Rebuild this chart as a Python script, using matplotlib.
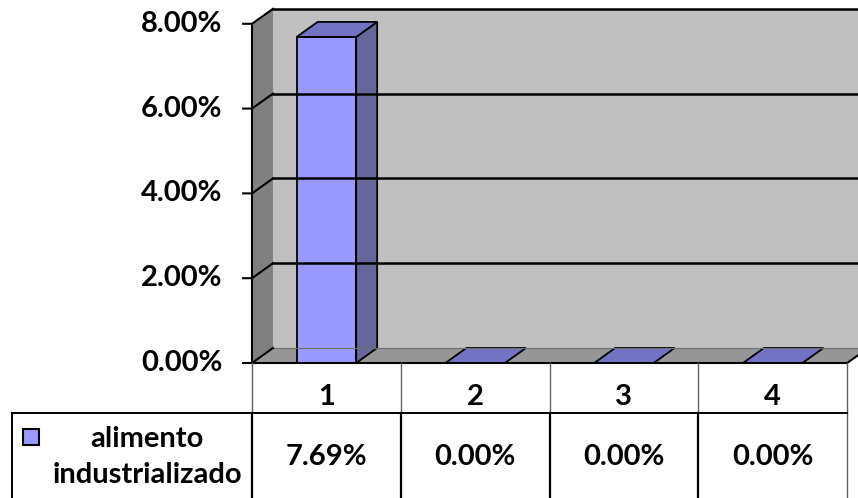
import matplotlib.pyplot as plt
from matplotlib.patches import Polygon, Rectangle

categories = ['1', '2', '3', '4']
values = [7.69, 0.00, 0.00, 0.00]
value_labels = ['7.69%', '0.00%', '0.00%', '0.00%']
y_ticks = [0, 2, 4, 6, 8]
y_tick_labels = ['0.00%', '2.00%', '4.00%', '6.00%', '8.00%']
series_name = 'alimento\nindustrializado'

plt.rcParams['font.family'] = ['Lato', 'DejaVu Sans']
FS = 21

fig = plt.figure(figsize=(8.58, 4.98), dpi=100)
ax = fig.add_axes([0, 0, 1, 1])
ax.set_xlim(-1.694, 4.073)
ax.set_ylim(-3.184, 8.561)
ax.axis('off')

n = len(categories)
top = y_ticks[-1]
dx, dy = 0.141, 0.354      # depth offset of the 3d box
bw = 0.4                   # bar width
edge = dict(edgecolor='black', linewidth=1.3, joinstyle='miter')

# walls and floor
ax.add_patch(Polygon([(dx, dy), (n + dx, dy), (n + dx, top + dy), (dx, top + dy)],
                     facecolor='#c0c0c0', edgecolor='none'))
ax.add_patch(Polygon([(0, 0), (dx, dy), (dx, top + dy), (0, top)],
                     facecolor='#808080', edgecolor='none'))
ax.add_patch(Polygon([(0, 0), (n, 0), (n + dx, dy), (dx, dy)],
                     facecolor='#969696', edgecolor='none'))
ax.plot([dx, n + dx], [dy, dy], color='#707070', lw=0.8)

# gridlines on the walls + ticks
for t in y_ticks:
    ax.plot([-0.06, 0, dx], [t, t, t + dy], color='black', lw=1.5, solid_joinstyle='miter')
    if t > 0:
        ax.plot([dx, n + dx + 0.2], [t + dy, t + dy], color='black', lw=1.8)
ax.plot([0, 0], [0, top], color='black', lw=1.5)
ax.plot([0, n], [0, 0], color='black', lw=1.5)
ax.plot([n, n + dx], [0, dy], color='black', lw=1.5)

for t, lab in zip(y_ticks, y_tick_labels):
    ax.text(-0.2, t, lab, ha='right', va='center', fontsize=FS, fontweight='bold')

# bars
for i, v in enumerate(values):
    x0, x1 = i + 0.5 - bw / 2, i + 0.5 + bw / 2
    if v > 0:
        ax.add_patch(Rectangle((x0, 0), bw, v, facecolor='#9999ff', **edge))
        ax.add_patch(Polygon([(x1, 0), (x1 + dx, dy), (x1 + dx, v + dy), (x1, v)],
                             facecolor='#666699', **edge))
    ax.add_patch(Polygon([(x0, v), (x1, v), (x1 + dx, v + dy), (x0 + dx, v + dy)],
                         facecolor='#7373c4', **edge))

# data table
row1 = -1.179
bottom = -3.184
leg_left = -1.613
for i in range(n + 1):
    ax.plot([i, i], [0, row1], color='#606060', lw=1.0)
    ax.plot([i, i], [row1, bottom], color='black' if i < n else '#606060',
            lw=1.6 if i < n else 1.0)
ax.plot([leg_left, n], [row1, row1], color='black', lw=1.4)
ax.plot([leg_left, leg_left], [row1, bottom], color='black', lw=1.4)

for i, (c, lab) in enumerate(zip(categories, value_labels)):
    ax.text(i + 0.5, -0.8, c, ha='center', va='center', fontsize=FS, fontweight='bold')
    ax.text(i + 0.5, -2.22, lab, ha='center', va='center', fontsize=FS, fontweight='bold')

ax.add_patch(Rectangle((-1.537, -1.94), 0.106, 0.38, facecolor='#9999ff',
                       edgecolor='black', linewidth=1.5))
ax.text(-0.706, -2.22, series_name, ha='center', va='center', fontsize=FS,
        fontweight='bold', linespacing=1.5)

fig.savefig('out.png', dpi=100)
